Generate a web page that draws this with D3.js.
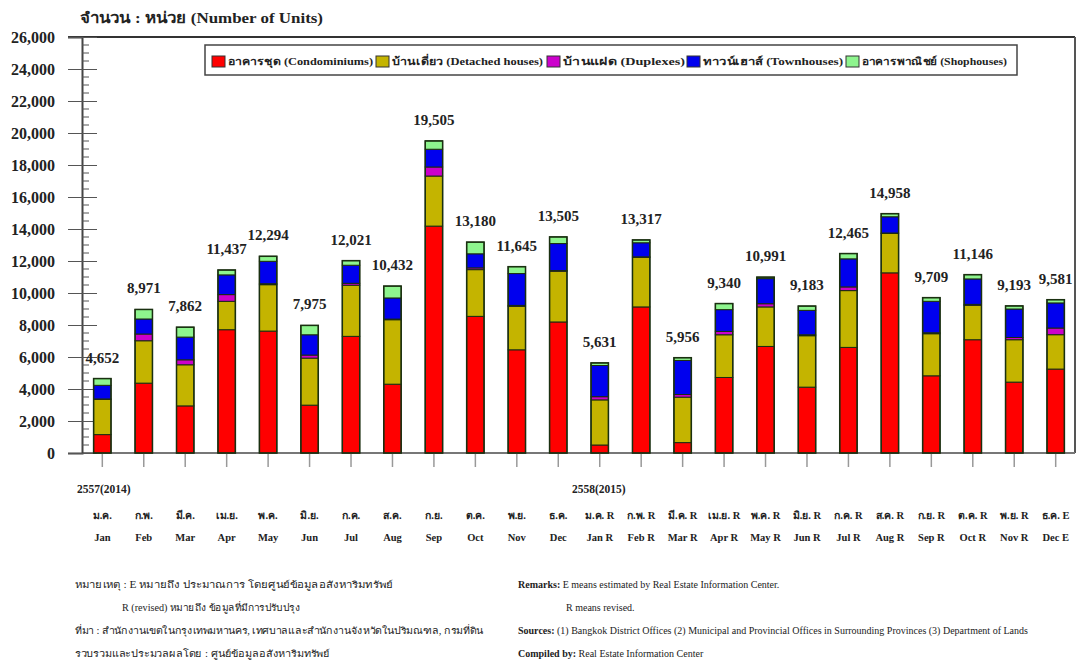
<!DOCTYPE html>
<html>
<head>
<meta charset="utf-8">
<script src="https://cdn.jsdelivr.net/npm/d3@7"></script>
<style>
  body { margin: 0; background: #fff; }
  svg text { font-family: "Liberation Serif", "Times New Roman", serif; fill: #222; }
</style>
</head>
<body>
<svg id="chart" width="1077" height="663"></svg>
<script>
// months (2014 then 2015)
const monthsEn = ["Jan", "Feb", "Mar", "Apr", "May", "Jun", "Jul", "Aug", "Sep", "Oct", "Nov", "Dec",
  "Jan R", "Feb R", "Mar R", "Apr R", "May R", "Jun R", "Jul R", "Aug R", "Sep R", "Oct R", "Nov R", "Dec E"];
const monthsTh = ["ม.ค.", "ก.พ.", "มี.ค.", "เม.ย.", "พ.ค.", "มิ.ย.", "ก.ค.", "ส.ค.", "ก.ย.", "ต.ค.", "พ.ย.", "ธ.ค.",
  "ม.ค. R", "ก.พ. R", "มี.ค. R", "เม.ย. R", "พ.ค. R", "มิ.ย. R", "ก.ค. R", "ส.ค. R", "ก.ย. R", "ต.ค. R", "พ.ย. R", "ธ.ค. E"];

const condo    = [1150, 4366, 2944, 7706, 7620, 2990, 7290, 4300, 14180, 8540, 6450, 8190,
                  500, 9130, 650, 4720, 6660, 4115, 6600, 11260, 4825, 7080, 4430, 5245];
const detached = [2200, 2650, 2570, 1774, 2900, 2940, 3195, 4030, 3130, 2920, 2715, 3170,
                  2820, 3100, 2840, 2670, 2470, 3215, 3550, 2460, 2630, 2150, 2650, 2150];
const duplex   = [30, 420, 310, 420, 60, 190, 120, 40, 565, 110, 60, 40,
                  200, 30, 165, 210, 200, 60, 230, 30, 60, 60, 140, 415];
const town     = [850, 940, 1420, 1232, 1400, 1270, 1130, 1320, 1110, 880, 1990, 1690,
                  1950, 880, 2130, 1360, 1570, 1525, 1755, 1015, 1965, 1590, 1780, 1570];
const shop     = [422, 595, 618, 305, 314, 585, 286, 742, 520, 730, 430, 415,
                  161, 177, 171, 380, 91, 268, 330, 193, 229, 266, 193, 201];
const totals   = [4652, 8971, 7862, 11437, 12294, 7975, 12021, 10432, 19505, 13180, 11645, 13505,
                  5631, 13317, 5956, 9340, 10991, 9183, 12465, 14958, 9709, 11146, 9193, 9581];

const seriesKeys = ["condo", "detached", "duplex", "town", "shop"];
const seriesNames = ["อาคารชุด (Condominiums)", "บ้านเดี่ยว (Detached houses)", "บ้านแฝด (Duplexes)",
  "ทาวน์เฮาส์ (Townhouses)", "อาคารพาณิชย์ (Shophouses)"];
const seriesColors = ["#ff0000", "#c4b400", "#cc00cc", "#0000ee", "#8ef58e"];

const yTicks = d3.range(0, 26001, 2000);

const rows = monthsEn.map((m, i) => ({
  month: m, condo: condo[i], detached: detached[i], duplex: duplex[i], town: town[i], shop: shop[i]
}));

const svg = d3.select("#chart");
const plotLeft = 82, plotRight = 1075, plotTop = 37, plotBottom = 453;

const x = d3.scaleBand().domain(monthsEn).range([plotLeft, plotRight + 1]).paddingInner(0.58).paddingOuter(0.28);
const y = d3.scaleLinear().domain([0, 26000]).range([plotBottom, plotTop]);
const color = d3.scaleOrdinal().domain(seriesKeys).range(seriesColors);

// title
svg.append("text").attr("x", 80).attr("y", 23)
  .style("font-size", "15px").style("font-weight", "bold")
  .attr("textLength", 243).attr("lengthAdjust", "spacingAndGlyphs")
  .text("จำนวน : หน่วย (Number of Units)");

// frame
svg.append("line").attr("x1", 68).attr("x2", plotRight).attr("y1", plotTop).attr("y2", plotTop)
  .attr("stroke", "#333").attr("stroke-width", 2);
svg.append("line").attr("x1", plotRight).attr("x2", plotRight).attr("y1", plotTop).attr("y2", plotBottom)
  .attr("stroke", "#555").attr("stroke-width", 2);
svg.append("line").attr("x1", plotLeft).attr("x2", plotRight).attr("y1", plotBottom).attr("y2", plotBottom)
  .attr("stroke", "#777").attr("stroke-width", 2);

// y axis: major ticks outward and across, minor inside
const yAxis = svg.append("g").attr("transform", `translate(${plotLeft},0)`)
  .call(d3.axisLeft(y).tickValues(yTicks).tickSize(14).tickFormat(d3.format(",")));
yAxis.select(".domain").attr("stroke", "#444").attr("stroke-width", 2);
yAxis.selectAll(".tick line").attr("stroke", "#555").attr("x2", -14).attr("x1", 15);
yAxis.selectAll(".tick text").attr("x", -27).attr("dy", "0.35em")
  .style("font-size", "16px").style("font-weight", "bold").style("font-family", "Liberation Serif, serif").attr("fill", "#222");
svg.append("g").selectAll("line")
  .data(d3.range(500, 26000, 500).filter(v => v % 2000 !== 0))
  .join("line")
  .attr("x1", plotLeft).attr("x2", plotLeft + 7)
  .attr("y1", d => y(d)).attr("y2", d => y(d))
  .attr("stroke", "#555").attr("stroke-width", 1);

// x ticks below the axis
svg.append("g").selectAll("line")
  .data(monthsEn)
  .join("line")
  .attr("x1", d => x(d) + x.bandwidth() / 2).attr("x2", d => x(d) + x.bandwidth() / 2)
  .attr("y1", plotBottom).attr("y2", plotBottom + 14)
  .attr("stroke", "#999").attr("stroke-width", 1.5);

// stacked bars
const stacked = d3.stack().keys(seriesKeys)(rows);
svg.append("g").selectAll("g")
  .data(stacked)
  .join("g")
  .attr("fill", d => color(d.key))
  .selectAll("rect")
  .data(d => d)
  .join("rect")
  .attr("x", d => x(d.data.month))
  .attr("y", d => y(d[1]))
  .attr("width", x.bandwidth())
  .attr("height", d => y(d[0]) - y(d[1]))
  .attr("stroke", "#1a2a10").attr("stroke-width", 1);

// outline of each bar
svg.append("g").selectAll("rect")
  .data(monthsEn)
  .join("rect")
  .attr("x", d => x(d))
  .attr("y", (d, i) => y(totals[i]))
  .attr("width", x.bandwidth())
  .attr("height", (d, i) => plotBottom - y(totals[i]))
  .attr("fill", "none").attr("stroke", "#1a3010").attr("stroke-width", 1.5);

// value labels
svg.append("g").selectAll("text")
  .data(monthsEn)
  .join("text")
  .attr("x", d => x(d) + x.bandwidth() / 2)
  .attr("y", (d, i) => y(totals[i]) - 16)
  .attr("text-anchor", "middle")
  .style("font-size", "15px").style("font-weight", "bold")
  .text((d, i) => d3.format(",")(totals[i]));

// x labels
svg.append("text").attr("x", 77).attr("y", 493).style("font-size", "11.5px").style("font-weight", "bold").text("2557(2014)");
svg.append("text").attr("x", 572).attr("y", 493).style("font-size", "11.5px").style("font-weight", "bold").text("2558(2015)");
svg.append("g").selectAll("text")
  .data(monthsTh)
  .join("text")
  .attr("x", (d, i) => x(monthsEn[i]) + x.bandwidth() / 2)
  .attr("y", 519)
  .attr("text-anchor", "middle")
  .style("font-size", "10.5px").style("font-weight", "bold").attr("fill", "#333")
  .text(d => d);
svg.append("g").selectAll("text")
  .data(monthsEn)
  .join("text")
  .attr("x", d => x(d) + x.bandwidth() / 2)
  .attr("y", 541)
  .attr("text-anchor", "middle")
  .style("font-size", "10.5px").style("font-weight", "bold")
  .text(d => d);

// legend
const legend = svg.append("g");
legend.append("rect").attr("x", 205).attr("y", 45).attr("width", 812).attr("height", 30)
  .attr("fill", "#fff").attr("stroke", "#444").attr("stroke-width", 1.5);
const itemX = [212, 376, 547, 687, 846];
const itemW = [145, 151, 122, 140, 145];
seriesKeys.forEach((k, i) => {
  legend.append("rect").attr("x", itemX[i]).attr("y", 56).attr("width", 13).attr("height", 11)
    .attr("fill", seriesColors[i]).attr("stroke", "#333").attr("stroke-width", 1);
  legend.append("text").attr("x", itemX[i] + 16).attr("y", 65)
    .style("font-size", "10.5px").style("font-weight", "bold").attr("fill", "#333")
    .attr("textLength", itemW[i]).attr("lengthAdjust", "spacingAndGlyphs")
    .text(seriesNames[i]);
});

// footnotes
const notes = svg.append("g").style("font-size", "9.5px").attr("fill", "#333");
const noteLeft = [
  [75, 588, 318, "หมายเหตุ : E  หมายถึง ประมาณการ โดยศูนย์ข้อมูลอสังหาริมทรัพย์"],
  [122, 611, 178, "R (revised) หมายถึง ข้อมูลที่มีการปรับปรุง"],
  [75, 634, 408, "ที่มา : สำนักงานเขตในกรุงเทพมหานคร, เทศบาลและสำนักงานจังหวัดในปริมณฑล, กรมที่ดิน"],
  [75, 657, 255, "รวบรวมและประมวลผลโดย : ศูนย์ข้อมูลอสังหาริมทรัพย์"]
];
noteLeft.forEach(n => notes.append("text").attr("x", n[0]).attr("y", n[1])
  .attr("textLength", n[2]).attr("lengthAdjust", "spacingAndGlyphs").text(n[3]));

const right = notes.append("g").style("font-size", "10px");
const r1 = right.append("text").attr("x", 518).attr("y", 588);
r1.append("tspan").style("font-weight", "bold").text("Remarks: ");
r1.append("tspan").text("E means estimated by Real Estate Information Center.");
right.append("text").attr("x", 566).attr("y", 611).text("R  means  revised.");
const r3 = right.append("text").attr("x", 518).attr("y", 634);
r3.append("tspan").style("font-weight", "bold").text("Sources: ");
r3.append("tspan").text("(1) Bangkok District Offices (2) Municipal and Provincial Offices in Surrounding Provinces (3) Department of Lands");
const r4 = right.append("text").attr("x", 518).attr("y", 657);
r4.append("tspan").style("font-weight", "bold").text("Compiled by: ");
r4.append("tspan").text("Real Estate Information Center");
</script>
</body>
</html>
